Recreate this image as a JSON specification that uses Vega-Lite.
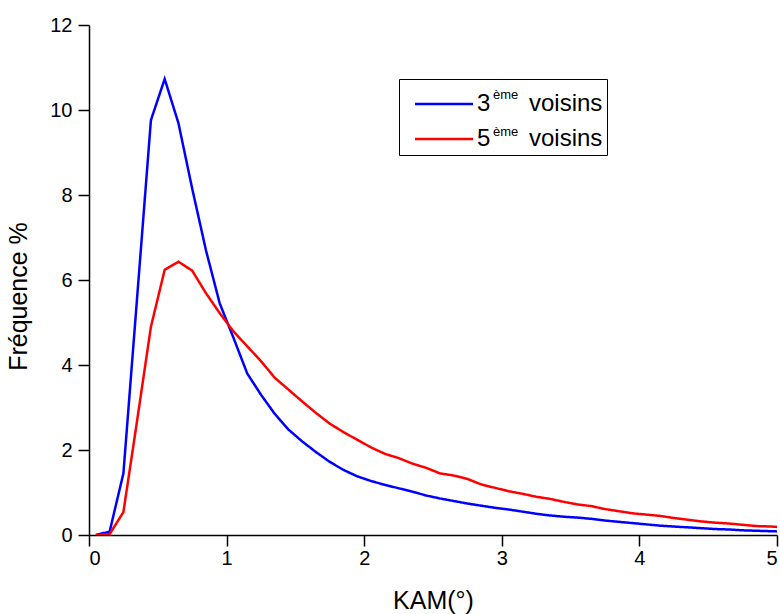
{
  "$schema": "https://vega.github.io/schema/vega-lite/v6.json",
  "width": 688,
  "height": 510,
  "autosize": {"type": "none"},
  "padding": {"left": 89, "top": 25, "right": 3, "bottom": 79},
  "background": "white",
  "config": {
    "view": {"stroke": null},
    "font": "Liberation Sans",
    "axis": {"grid": false, "domainColor": "black", "domainWidth": 1.5, "tickColor": "black", "tickWidth": 1.5, "tickSize": 11, "labelColor": "black", "labelFontSize": 20, "labelFont": "Liberation Sans", "titleFont": "Liberation Sans", "titleFontSize": 25, "titleFontWeight": "normal", "titleColor": "black"}
  },
  "data": {"values": [
    {"kam": 0.05, "freq": 0.0, "serie": "3ème voisins"},
    {"kam": 0.15, "freq": 0.08, "serie": "3ème voisins"},
    {"kam": 0.25, "freq": 1.45, "serie": "3ème voisins"},
    {"kam": 0.35, "freq": 5.6, "serie": "3ème voisins"},
    {"kam": 0.45, "freq": 9.76, "serie": "3ème voisins"},
    {"kam": 0.55, "freq": 10.73, "serie": "3ème voisins"},
    {"kam": 0.65, "freq": 9.69, "serie": "3ème voisins"},
    {"kam": 0.75, "freq": 8.15, "serie": "3ème voisins"},
    {"kam": 0.85, "freq": 6.7, "serie": "3ème voisins"},
    {"kam": 0.95, "freq": 5.45, "serie": "3ème voisins"},
    {"kam": 1.05, "freq": 4.64, "serie": "3ème voisins"},
    {"kam": 1.15, "freq": 3.8, "serie": "3ème voisins"},
    {"kam": 1.25, "freq": 3.3, "serie": "3ème voisins"},
    {"kam": 1.35, "freq": 2.85, "serie": "3ème voisins"},
    {"kam": 1.45, "freq": 2.48, "serie": "3ème voisins"},
    {"kam": 1.55, "freq": 2.2, "serie": "3ème voisins"},
    {"kam": 1.65, "freq": 1.95, "serie": "3ème voisins"},
    {"kam": 1.75, "freq": 1.72, "serie": "3ème voisins"},
    {"kam": 1.85, "freq": 1.53, "serie": "3ème voisins"},
    {"kam": 1.95, "freq": 1.38, "serie": "3ème voisins"},
    {"kam": 2.05, "freq": 1.27, "serie": "3ème voisins"},
    {"kam": 2.15, "freq": 1.18, "serie": "3ème voisins"},
    {"kam": 2.25, "freq": 1.1, "serie": "3ème voisins"},
    {"kam": 2.35, "freq": 1.02, "serie": "3ème voisins"},
    {"kam": 2.45, "freq": 0.93, "serie": "3ème voisins"},
    {"kam": 2.55, "freq": 0.86, "serie": "3ème voisins"},
    {"kam": 2.65, "freq": 0.8, "serie": "3ème voisins"},
    {"kam": 2.75, "freq": 0.74, "serie": "3ème voisins"},
    {"kam": 2.85, "freq": 0.69, "serie": "3ème voisins"},
    {"kam": 2.95, "freq": 0.64, "serie": "3ème voisins"},
    {"kam": 3.05, "freq": 0.6, "serie": "3ème voisins"},
    {"kam": 3.15, "freq": 0.55, "serie": "3ème voisins"},
    {"kam": 3.25, "freq": 0.5, "serie": "3ème voisins"},
    {"kam": 3.35, "freq": 0.46, "serie": "3ème voisins"},
    {"kam": 3.45, "freq": 0.43, "serie": "3ème voisins"},
    {"kam": 3.55, "freq": 0.41, "serie": "3ème voisins"},
    {"kam": 3.65, "freq": 0.38, "serie": "3ème voisins"},
    {"kam": 3.75, "freq": 0.34, "serie": "3ème voisins"},
    {"kam": 3.85, "freq": 0.31, "serie": "3ème voisins"},
    {"kam": 3.95, "freq": 0.28, "serie": "3ème voisins"},
    {"kam": 4.05, "freq": 0.25, "serie": "3ème voisins"},
    {"kam": 4.15, "freq": 0.22, "serie": "3ème voisins"},
    {"kam": 4.25, "freq": 0.2, "serie": "3ème voisins"},
    {"kam": 4.35, "freq": 0.18, "serie": "3ème voisins"},
    {"kam": 4.45, "freq": 0.16, "serie": "3ème voisins"},
    {"kam": 4.55, "freq": 0.14, "serie": "3ème voisins"},
    {"kam": 4.65, "freq": 0.13, "serie": "3ème voisins"},
    {"kam": 4.75, "freq": 0.11, "serie": "3ème voisins"},
    {"kam": 4.85, "freq": 0.1, "serie": "3ème voisins"},
    {"kam": 4.95, "freq": 0.09, "serie": "3ème voisins"},
    {"kam": 5.05, "freq": 0.08, "serie": "3ème voisins"},
    {"kam": 0.05, "freq": 0.0, "serie": "5ème voisins"},
    {"kam": 0.15, "freq": 0.02, "serie": "5ème voisins"},
    {"kam": 0.25, "freq": 0.54, "serie": "5ème voisins"},
    {"kam": 0.35, "freq": 2.7, "serie": "5ème voisins"},
    {"kam": 0.45, "freq": 4.9, "serie": "5ème voisins"},
    {"kam": 0.55, "freq": 6.24, "serie": "5ème voisins"},
    {"kam": 0.65, "freq": 6.43, "serie": "5ème voisins"},
    {"kam": 0.75, "freq": 6.22, "serie": "5ème voisins"},
    {"kam": 0.85, "freq": 5.69, "serie": "5ème voisins"},
    {"kam": 0.95, "freq": 5.22, "serie": "5ème voisins"},
    {"kam": 1.05, "freq": 4.79, "serie": "5ème voisins"},
    {"kam": 1.15, "freq": 4.44, "serie": "5ème voisins"},
    {"kam": 1.25, "freq": 4.09, "serie": "5ème voisins"},
    {"kam": 1.35, "freq": 3.7, "serie": "5ème voisins"},
    {"kam": 1.45, "freq": 3.42, "serie": "5ème voisins"},
    {"kam": 1.55, "freq": 3.14, "serie": "5ème voisins"},
    {"kam": 1.65, "freq": 2.87, "serie": "5ème voisins"},
    {"kam": 1.75, "freq": 2.62, "serie": "5ème voisins"},
    {"kam": 1.85, "freq": 2.42, "serie": "5ème voisins"},
    {"kam": 1.95, "freq": 2.24, "serie": "5ème voisins"},
    {"kam": 2.05, "freq": 2.06, "serie": "5ème voisins"},
    {"kam": 2.15, "freq": 1.91, "serie": "5ème voisins"},
    {"kam": 2.25, "freq": 1.81, "serie": "5ème voisins"},
    {"kam": 2.35, "freq": 1.68, "serie": "5ème voisins"},
    {"kam": 2.45, "freq": 1.58, "serie": "5ème voisins"},
    {"kam": 2.55, "freq": 1.45, "serie": "5ème voisins"},
    {"kam": 2.65, "freq": 1.4, "serie": "5ème voisins"},
    {"kam": 2.75, "freq": 1.32, "serie": "5ème voisins"},
    {"kam": 2.85, "freq": 1.19, "serie": "5ème voisins"},
    {"kam": 2.95, "freq": 1.11, "serie": "5ème voisins"},
    {"kam": 3.05, "freq": 1.03, "serie": "5ème voisins"},
    {"kam": 3.15, "freq": 0.97, "serie": "5ème voisins"},
    {"kam": 3.25, "freq": 0.9, "serie": "5ème voisins"},
    {"kam": 3.35, "freq": 0.85, "serie": "5ème voisins"},
    {"kam": 3.45, "freq": 0.78, "serie": "5ème voisins"},
    {"kam": 3.55, "freq": 0.72, "serie": "5ème voisins"},
    {"kam": 3.65, "freq": 0.68, "serie": "5ème voisins"},
    {"kam": 3.75, "freq": 0.61, "serie": "5ème voisins"},
    {"kam": 3.85, "freq": 0.56, "serie": "5ème voisins"},
    {"kam": 3.95, "freq": 0.51, "serie": "5ème voisins"},
    {"kam": 4.05, "freq": 0.48, "serie": "5ème voisins"},
    {"kam": 4.15, "freq": 0.45, "serie": "5ème voisins"},
    {"kam": 4.25, "freq": 0.4, "serie": "5ème voisins"},
    {"kam": 4.35, "freq": 0.36, "serie": "5ème voisins"},
    {"kam": 4.45, "freq": 0.32, "serie": "5ème voisins"},
    {"kam": 4.55, "freq": 0.29, "serie": "5ème voisins"},
    {"kam": 4.65, "freq": 0.27, "serie": "5ème voisins"},
    {"kam": 4.75, "freq": 0.24, "serie": "5ème voisins"},
    {"kam": 4.85, "freq": 0.21, "serie": "5ème voisins"},
    {"kam": 4.95, "freq": 0.2, "serie": "5ème voisins"},
    {"kam": 5.05, "freq": 0.18, "serie": "5ème voisins"}
  ]},
  "mark": {"type": "line", "strokeWidth": 2.5, "clip": true},
  "encoding": {
    "x": {"field": "kam", "type": "quantitative", "title": "KAM(°)",
      "scale": {"domain": [0, 5], "nice": false, "zero": false},
      "axis": {"values": [0, 1, 2, 3, 4, 5], "labelPadding": 2, "titlePadding": 20}},
    "y": {"field": "freq", "type": "quantitative", "title": "Fréquence %",
      "scale": {"domain": [0, 12], "nice": false},
      "axis": {"values": [0, 2, 4, 6, 8, 10, 12], "labelPadding": 6, "titlePadding": 18, "titleY": 271}},
    "color": {"field": "serie", "type": "nominal",
      "scale": {"range": ["#0000ff", "#ff0000"]},
      "legend": {"orient": "none", "legendX": 310, "legendY": 54,
        "title": "\u00a0", "titleFontSize": 7, "titlePadding": 2,
        "padding": 4, "strokeColor": null, "fillColor": null,
        "symbolType": "M0,0H6", "symbolSize": 374, "symbolStrokeWidth": 2.5,
        "labelFont": "Liberation Sans", "labelFontSize": 24, "labelColor": "black", "labelOffset": 50, "labelLimit": 0,
        "rowPadding": 11,
        "labelExpr": "slice(datum.label,0,1)"}},
    "strokeDash": {"field": "serie", "type": "nominal",
      "scale": {"domain": ["3ème voisins", "5ème voisins"], "range": [[1, 0], [1, 0]]},
      "legend": {"orient": "none", "legendX": 391, "legendY": 63, "title": null, "padding": 0,
        "symbolSize": 0, "symbolStrokeWidth": 0, "symbolOpacity": 0, "labelOffset": 0,
        "labelFont": "Liberation Sans", "labelFontSize": 13, "labelColor": "black", "rowPadding": 23,
        "labelExpr": "'ème'"}},
    "opacity": {"field": "serie", "type": "nominal",
      "scale": {"domain": ["5ème voisins", "3ème voisins"], "range": [1, 1]},
      "legend": {"orient": "none", "legendX": 310, "legendY": 54,
        "title": "\u00a0", "titleFontSize": 7, "titlePadding": 2,
        "padding": 4, "strokeColor": "black", "fillColor": null,
        "symbolSize": 0, "symbolStrokeWidth": 0, "symbolOpacity": 0, "labelOffset": 102, "labelLimit": 0,
        "labelFont": "Liberation Sans", "labelFontSize": 24, "labelColor": "black", "rowPadding": 11,
        "labelExpr": "'voisins\u00a0'"}}
  }
}
